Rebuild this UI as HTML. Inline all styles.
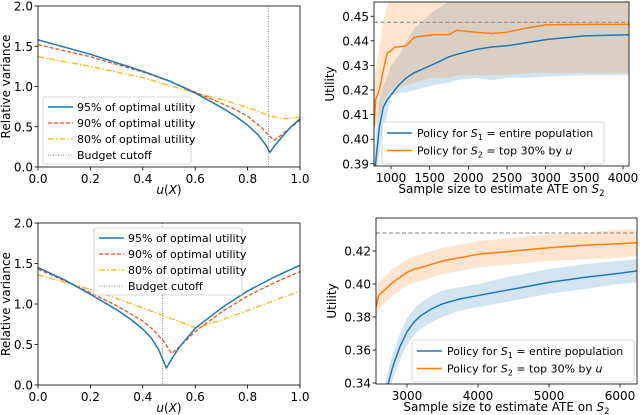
<!DOCTYPE html>
<html><head><meta charset="utf-8"><style>
html,body{margin:0;background:#fff;width:640px;height:415px;overflow:hidden}
svg{display:block;font-family:"DejaVu Sans","Liberation Sans",sans-serif}
</style></head><body>
<svg id="c" width="640" height="415"></svg>
<script>
// ---- data: variance panels ----
const tlCutoff = 0.88;
const tlBlueX = [0,0.2,0.4,0.5,0.6,0.7,0.75,0.8,0.84,0.87,0.885,0.9,0.93,0.96,1.0];
const tlBlueY = [1.58,1.40,1.19,1.07,0.92,0.74,0.64,0.52,0.40,0.27,0.18,0.25,0.37,0.48,0.60];
const tlOrangeX = [0,0.2,0.4,0.5,0.6,0.7,0.75,0.8,0.85,0.88,0.9,0.93,0.96,1.0];
const tlOrangeY = [1.52,1.37,1.18,1.07,0.93,0.79,0.72,0.63,0.50,0.40,0.33,0.40,0.48,0.58];
const tlYellowX = [0,0.2,0.4,0.6,0.7,0.8,0.88,0.92,0.95,1.0];
const tlYellowY = [1.37,1.25,1.11,0.92,0.84,0.74,0.64,0.61,0.60,0.62];
const blCutoff = 0.475;
const blBlueX = [0,0.1,0.2,0.3,0.35,0.4,0.43,0.46,0.49,0.51,0.54,0.6,0.7,0.8,0.9,1.0];
const blBlueY = [1.45,1.30,1.12,0.93,0.82,0.69,0.59,0.44,0.21,0.32,0.47,0.70,0.95,1.16,1.33,1.48];
const blOrangeX = [0,0.1,0.2,0.3,0.4,0.44,0.48,0.51,0.54,0.6,0.7,0.8,0.9,1.0];
const blOrangeY = [1.43,1.29,1.14,0.98,0.79,0.68,0.54,0.39,0.47,0.66,0.90,1.10,1.26,1.40];
const blYellowX = [0,0.1,0.2,0.3,0.4,0.5,0.6,0.62,0.7,0.8,0.9,1.0];
const blYellowY = [1.36,1.27,1.18,1.07,0.95,0.83,0.71,0.72,0.80,0.92,1.04,1.16];
const varTicks = [0,0.5,1.0,1.5,2.0];
const uTicks = [0,0.2,0.4,0.6,0.8,1.0];
// ---- data: utility panels ----
const trX = [780,800,850,900,950,1000,1050,1100,1200,1300,1550,1750,1850,2100,2300,2500,2800,3000,3500,4078];
const trBlue = [0.380,0.390,0.405,0.413,0.416,0.418,0.420,0.422,0.425,0.427,0.4305,0.4335,0.4345,0.4365,0.4375,0.438,0.4395,0.4405,0.442,0.4425];
const trBlueLo = [0.370,0.380,0.395,0.405,0.410,0.418,0.418,0.419,0.419,0.420,0.422,0.423,0.424,0.425,0.424,0.425,0.425,0.4255,0.426,0.426];
const trBlueHi = [0.390,0.400,0.416,0.422,0.425,0.430,0.432,0.434,0.440,0.445,0.452,0.456,0.457,0.457,0.457,0.457,0.457,0.457,0.457,0.457];
const trOrange = [0.405,0.416,0.420,0.428,0.435,0.436,0.4375,0.4375,0.438,0.4415,0.4425,0.4425,0.4443,0.4435,0.443,0.4435,0.4455,0.4465,0.4467,0.4467];
const trOrangeLo = [0.395,0.405,0.410,0.415,0.418,0.420,0.420,0.421,0.422,0.423,0.425,0.425,0.426,0.426,0.426,0.426,0.427,0.427,0.427,0.427];
const trOrangeHi = [0.420,0.428,0.437,0.448,0.454,0.457,0.457,0.457,0.457,0.457,0.457,0.457,0.457,0.457,0.457,0.457,0.457,0.457,0.457,0.457];
const trOptimal = 0.4475;
const trYTicks = [0.39,0.40,0.41,0.42,0.43,0.44,0.45];
const trXTicks = [1000,1500,2000,2500,3000,3500,4000];
const brX = [2563,2600,2700,2800,2900,3000,3100,3200,3350,3500,3750,4000,4500,5000,5500,6000,6240];
const brBlue = [0.300,0.310,0.334,0.350,0.362,0.371,0.377,0.381,0.385,0.388,0.391,0.393,0.397,0.401,0.404,0.4065,0.408];
const brBlueLo = [0.290,0.300,0.326,0.342,0.354,0.363,0.369,0.373,0.377,0.380,0.384,0.386,0.390,0.394,0.397,0.400,0.401];
const brBlueHi = [0.310,0.320,0.342,0.358,0.370,0.379,0.385,0.389,0.393,0.396,0.398,0.400,0.405,0.409,0.412,0.414,0.415];
const brOrange = [0.386,0.393,0.397,0.401,0.404,0.407,0.409,0.410,0.412,0.414,0.416,0.418,0.420,0.422,0.4235,0.4245,0.425];
const brOrangeLo = [0.378,0.385,0.389,0.393,0.396,0.399,0.401,0.402,0.404,0.406,0.408,0.410,0.412,0.414,0.415,0.416,0.417];
const brOrangeHi = [0.394,0.401,0.405,0.409,0.412,0.415,0.417,0.418,0.420,0.422,0.424,0.426,0.428,0.430,0.431,0.433,0.433];
const brOptimal = 0.4309;
const brYTicks = [0.34,0.36,0.38,0.40,0.42];
const brXTicks = [3000,4000,5000,6000];

const NS="http://www.w3.org/2000/svg";
const svg=document.getElementById('c');
function mk(tag,attrs,parent){const e=document.createElementNS(NS,tag);for(const k in attrs)e.setAttribute(k,attrs[k]);(parent||svg).appendChild(e);return e;}
let clipId=0;
function panel(o){
  const sx=v=>o.x0+(v-o.xmin)/(o.xmax-o.xmin)*(o.x1-o.x0);
  const sy=v=>o.y1-(v-o.ymin)/(o.ymax-o.ymin)*(o.y1-o.y0);
  const g=mk('g',{});
  
  
  const id='cl'+(clipId++);
  const cp=mk('clipPath',{id},g);mk('rect',{x:o.x0,y:o.y0,width:o.x1-o.x0,height:o.y1-o.y0},cp);
  const plot=mk('g',{'clip-path':`url(#${id})`},g);
  o.draw(plot,sx,sy);
  const fr=mk('rect',{x:o.x0,y:o.y0,width:o.x1-o.x0,height:o.y1-o.y0,fill:'none',stroke:'#000','stroke-width':0.8},g);
  
  
  o.yt.forEach(v=>{const y=sy(v);mk('line',{x1:o.x0-3.5,x2:o.x0,y1:y,y2:y,stroke:'#000','stroke-width':0.8},g);
    const t=mk('text',{x:o.x0-5,y:y+4.5,'font-size':12,'text-anchor':'end'},g);t.textContent=o.yf(v);
    
    });
  o.xt.forEach(v=>{const x=sx(v);mk('line',{x1:x,x2:x,y1:o.y1,y2:o.y1+3.5,stroke:'#000','stroke-width':0.8},g);
    const t=mk('text',{x:x,y:o.y1+16,'font-size':12,'text-anchor':'middle'},g);t.textContent=o.xf(v);
    
    });
  const yl=mk('text',{transform:`translate(${o.ylx},${(o.y0+o.y1)/2}) rotate(-90)`,'font-size':12,'text-anchor':'middle'},g);yl.textContent=o.ylab;
  
  
  const xl=mk('text',{x:(o.x0+o.x1)/2,y:o.xly,'font-size':12,'text-anchor':'middle'},g);xl.innerHTML=o.xlab;
  
  
  return {g,sx,sy};
}
function line(p,xs,ys,sx,sy,attrs){return mk('path',Object.assign({d:xs.map((x,i)=>(i?'L':'M')+sx(x)+','+sy(ys[i])).join(''),fill:'none','stroke-linejoin':'round'},attrs),p);}
function band(p,xs,lo,hi,sx,sy,attrs){let d=xs.map((x,i)=>(i?'L':'M')+sx(x)+','+sy(hi[i])).join('');for(let i=xs.length-1;i>=0;i--)d+='L'+sx(xs[i])+','+sy(lo[i]);return mk('path',Object.assign({d:d+'Z'},attrs),p);}
const BLUE='#1f77b4',ORG='#ff7f0e',RED='#e8541c',YEL='#fdb515';

function varPanel(name,y0,y1,cut,bx,by,ox,oy,yx,yy,leg){
  const P=panel({name,x0:38,x1:300,y0,y1,xmin:0,xmax:1,ymin:0,ymax:2,yt:varTicks,xt:uTicks,
    yf:v=>v.toFixed(1),xf:v=>v.toFixed(1),ylx:10,xly:y1+27,ylab:'Relative variance',xlab:'<tspan font-style="italic">u</tspan>(<tspan font-style="italic">X</tspan>)',
    draw:(p,sx,sy)=>{
      const c=mk('line',{x1:sx(cut),x2:sx(cut),y1:y0,y2:y1,stroke:'#888','stroke-width':1,'stroke-dasharray':'1,1.5'},p);
      
      let l=line(p,yx,yy,sx,sy,{stroke:YEL,'stroke-width':1.3,'stroke-dasharray':'6,2,1.5,2'});
      
      l=line(p,ox,oy,sx,sy,{stroke:RED,'stroke-width':1.3,'stroke-dasharray':'4,2'});
      
      l=line(p,bx,by,sx,sy,{stroke:BLUE,'stroke-width':1.5});
      
    }});
  const lg=mk('g',{},P.g);
  mk('rect',{x:leg[0],y:leg[1],width:148,height:67,rx:2,fill:'#fff','fill-opacity':0.85,stroke:'#ccc','stroke-width':0.8},lg);
  const items=[['95% of optimal utility',{stroke:BLUE,'stroke-width':1.5}],['90% of optimal utility',{stroke:RED,'stroke-width':1.3,'stroke-dasharray':'4,2'}],['80% of optimal utility',{stroke:YEL,'stroke-width':1.3,'stroke-dasharray':'6,2,1.5,2'}],['Budget cutoff',{stroke:'#888','stroke-width':1,'stroke-dasharray':'1,1.5'}]];
  items.forEach((it,i)=>{const y=leg[1]+10+i*16;mk('line',Object.assign({x1:leg[0]+5,x2:leg[0]+30,y1:y,y2:y},it[1]),lg);
    const t=mk('text',{x:leg[0]+34,y:y+4,'font-size':11},lg);t.textContent=it[0];
    });
}
varPanel('variance-chart-top',6,167,tlCutoff,tlBlueX,tlBlueY,tlOrangeX,tlOrangeY,tlYellowX,tlYellowY,[43,97]);
varPanel('variance-chart-bottom',223,385,blCutoff,blBlueX,blBlueY,blOrangeX,blOrangeY,blYellowX,blYellowY,[94,228]);

function utilPanel(name,x0,x1,y0,y1,xly,xmin,xmax,ymin,ymax,yt,xt,X,B,BL,BH,O,OL,OH,opt,leg){
  const P=panel({name,x0,x1,y0,y1,xmin,xmax,ymin,ymax,yt,xt,yf:v=>v.toFixed(2),xf:v=>String(v),ylx:x0-40,xly,ylab:'Utility',
    xlab:'Sample size to estimate ATE on <tspan font-style="italic">S</tspan><tspan font-size="8.5" dy="3">2</tspan>',
    draw:(p,sx,sy)=>{
      let b=band(p,X,BL,BH,sx,sy,{fill:BLUE,'fill-opacity':0.2});
      b=band(p,X,OL,OH,sx,sy,{fill:ORG,'fill-opacity':0.2});
      const d=mk('line',{x1:x0,x2:x1,y1:sy(opt),y2:sy(opt),stroke:'#999','stroke-width':1.2,'stroke-dasharray':'4,2.5'},p);
      
      let l=line(p,X,B,sx,sy,{stroke:BLUE,'stroke-width':1.5});
      l=line(p,X,O,sx,sy,{stroke:ORG,'stroke-width':1.5});
    }});
  const lg=mk('g',{},P.g);
  mk('rect',{x:leg[0],y:leg[1],width:222,height:42,rx:2,fill:'#fff','fill-opacity':0.85,stroke:'#ccc','stroke-width':0.8},lg);
  const items=[[BLUE,'<tspan>Policy for </tspan><tspan font-style="italic">S</tspan><tspan font-size="8" dy="3">1</tspan><tspan dy="-3"> = entire population</tspan>'],
               [ORG,'<tspan>Policy for </tspan><tspan font-style="italic">S</tspan><tspan font-size="8" dy="3">2</tspan><tspan dy="-3"> = top 30% by </tspan><tspan font-style="italic">u</tspan>']];
  items.forEach((it,i)=>{const y=leg[1]+11+i*17.5;mk('line',{x1:leg[0]+5,x2:leg[0]+30,y1:y,y2:y,stroke:it[0],'stroke-width':1.5},lg);
    const t=mk('text',{x:leg[0]+35,y:y+4,'font-size':11},lg);t.innerHTML=it[1];
    });
}
utilPanel('utility-chart-top',374,629,2,166,193,780,4078,0.3891,0.4558,trYTicks,trXTicks,trX,trBlue,trBlueLo,trBlueHi,trOrange,trOrangeLo,trOrangeHi,trOptimal,[382,122]);
utilPanel('utility-chart-bottom',376,637,218,384,411,2563,6240,0.3394,0.44,brYTicks,brXTicks,brX,brBlue,brBlueLo,brBlueHi,brOrange,brOrangeLo,brOrangeHi,brOptimal,[412,340]);
</script>
</body></html>
